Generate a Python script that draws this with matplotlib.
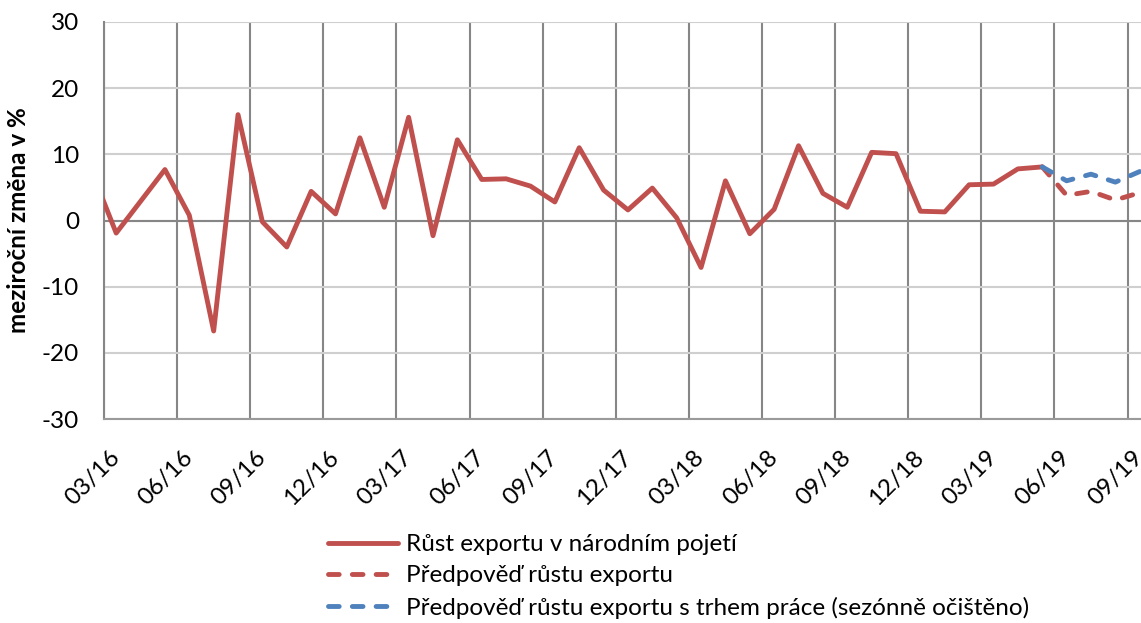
# vyvoj exportu - skutecnost a predpovedi

import numpy as np
import matplotlib.pyplot as plt

plt.rcParams['font.family'] = ['Lato', 'DejaVu Sans']
plt.rcParams['axes.unicode_minus'] = False

# data (mesicne, od 02/16)
export_rust = [7.4, -1.9, 2.9, 7.7, 0.8, -16.7, 16.0, -0.2, -4.0, 4.4, 1.0,
               12.5, 2.0, 15.6, -2.3, 12.2, 6.2, 6.3, 5.2, 2.8, 11.0, 4.6, 1.6,
               4.9, 0.4, -7.1, 6.0, -2.0, 1.7, 11.3, 4.1, 2.0, 10.3, 10.1, 1.4,
               1.3, 5.4, 5.5, 7.8, 8.1]
predpoved = [8.1, 3.8, 4.4, 3.1, 4.2]          # 05/19 - 09/19
predpoved_trh = [8.1, 6.0, 7.0, 5.8, 7.4]      # 05/19 - 09/19
popisky = ['03/16', '06/16', '09/16', '12/16', '03/17', '06/17', '09/17',
           '12/17', '03/18', '06/18', '09/18', '12/18', '03/19', '06/19', '09/19']

# pozice mesicu: 03/16 je na 0.5 (kategorie mezi carami mrizky)
x_export = np.arange(len(export_rust)) - 0.5
x_pred = np.arange(len(predpoved)) + x_export[-1]

cerv = '#c0504d'
modr = '#4f81bd'
fs = 17.5
carky = (0, (2.2, 2.7))

fig = plt.figure(figsize=(11.41, 6.23), dpi=100)
ax = fig.add_axes([104/1141, 1 - 419/623, 1 - 104/1141, (419 - 22)/623])

ax.plot(x_export, export_rust, color=cerv, lw=3.5, solid_joinstyle='round',
        solid_capstyle='round', label='Růst exportu v národním pojetí', zorder=3)
ax.plot(x_pred, predpoved, color=cerv, lw=3.5, ls=carky,
        dash_capstyle='round', label='Předpověď růstu exportu', zorder=3)
ax.plot(x_pred, predpoved_trh, color=modr, lw=3.5, ls=carky,
        dash_capstyle='round',
        label='Předpověď růstu exportu s trhem práce (sezónně očištěno)', zorder=4)

ax.set_xlim(0, (1141 - 104) / 24.37)
ax.set_ylim(-30, 30)
ax.set_yticks(np.arange(-30, 31, 10))

# cary mrizky na hranicich ctvrtleti, popisky na stredu kategorie
ax.set_xticks(np.arange(0, 43, 3))
ax.set_xticklabels([])
ax.set_xticks(np.arange(0, 43, 3) + 0.5, minor=True)
ax.set_xticklabels(popisky, minor=True, rotation=45, ha='right', va='center',
                   rotation_mode='anchor', fontsize=fs)
ax.tick_params(axis='x', which='both', length=0)
ax.tick_params(axis='x', which='minor', pad=25)
ax.tick_params(axis='y', length=0, pad=18, labelsize=fs)

ax.grid(axis='x', color='#868686', lw=1.5)
ax.grid(axis='y', color='#cfcfcf', lw=1.5)
ax.axhline(0, color='#868686', lw=1.5, zorder=2)
ax.set_axisbelow(True)

for s in ['top', 'right']:
    ax.spines[s].set_visible(False)
ax.spines['left'].set_color('#868686')
ax.spines['left'].set_linewidth(1.5)
ax.spines['bottom'].set_color('#9a9a9a')
ax.spines['bottom'].set_linewidth(1.5)

fig.text(19/1141, 1 - 220/623, 'meziroční změna v %', rotation=90,
         ha='center', va='center', fontsize=fs, fontweight='bold')

fig.legend(loc='upper left', bbox_to_anchor=(328/1141, 1 - 534/623),
           frameon=False, fontsize=fs, handlelength=2.9, handletextpad=0.3,
           labelspacing=0.42, borderpad=0, borderaxespad=0)

fig.savefig('out.png', dpi=100)
